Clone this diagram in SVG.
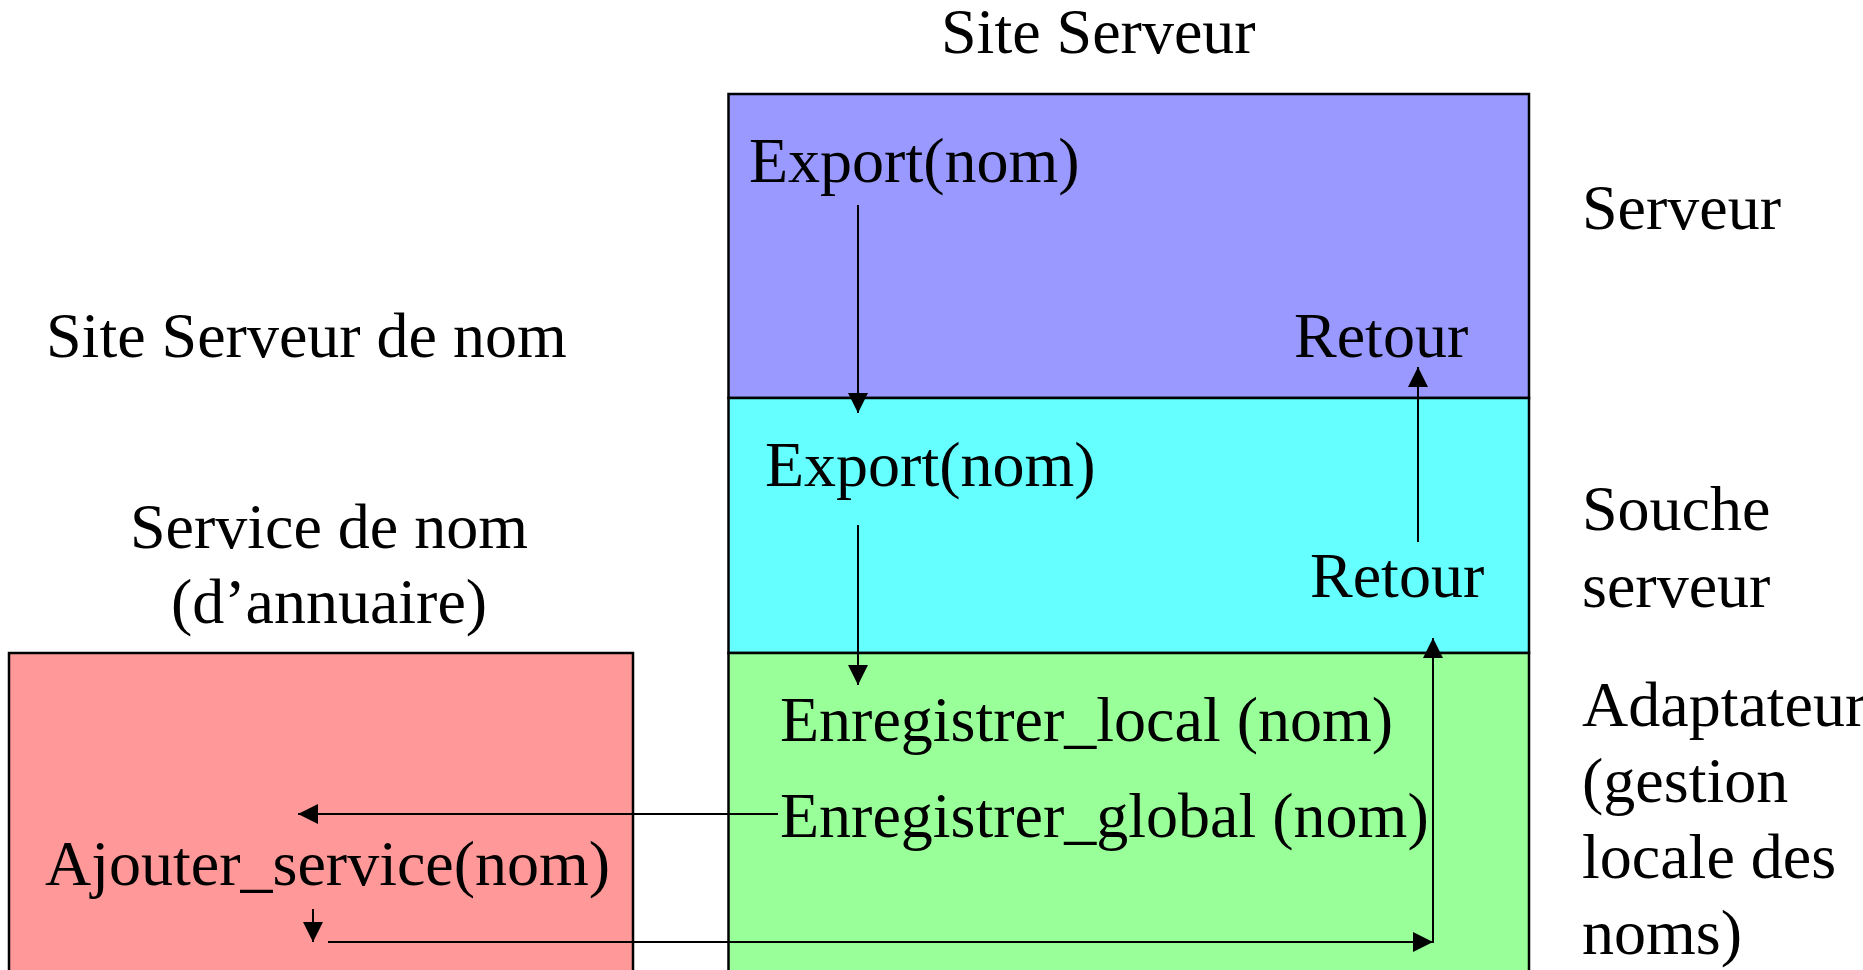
<svg xmlns="http://www.w3.org/2000/svg" width="1863" height="970" viewBox="0 0 1863 970">
  <style>
    text { font-family: "Liberation Serif", "Times New Roman", serif; font-size: 64px; fill: #000; }
    .mid { text-anchor: middle; }
    .layer { stroke: #000; stroke-width: 2.5; }
    .link { stroke: #000; stroke-width: 2; fill: none; }
  </style>
  <defs>
    <marker id="head" markerUnits="userSpaceOnUse" markerWidth="21" markerHeight="21" refX="20" refY="10" orient="auto">
      <path d="M0,0 L20,10 L0,20 z" fill="#000"/>
    </marker>
  </defs>
  <rect width="1863" height="970" fill="#fff"/>

  <!-- titles -->
  <g id="titles">
    <text x="941" y="53">Site Serveur</text>
    <text x="46" y="357">Site Serveur de nom</text>
    <text class="mid" x="329" y="548">Service de nom</text>
    <text class="mid" x="329" y="623">(d’annuaire)</text>
  </g>

  <!-- server site layers -->
  <g id="serveur">
    <rect class="layer" x="728.5" y="94" width="800.5" height="304" fill="#9999ff"/>
    <text x="749" y="182">Export(nom)</text>
    <text x="1294" y="357">Retour</text>
  </g>
  <g id="souche">
    <rect class="layer" x="728.5" y="398" width="800.5" height="255" fill="#66ffff"/>
    <text x="765" y="486">Export(nom)</text>
    <text x="1310" y="597">Retour</text>
  </g>
  <g id="adaptateur">
    <rect class="layer" x="728.5" y="653" width="800.5" height="330" fill="#99ff99"/>
    <text x="780" y="741">Enregistrer_local (nom)</text>
    <text x="780" y="837">Enregistrer_global (nom)</text>
  </g>

  <!-- name service -->
  <g id="service-nom">
    <rect class="layer" x="9" y="653" width="624" height="330" fill="#ff9999"/>
    <text x="45" y="885">Ajouter_service(nom)</text>
  </g>

  <!-- layer captions -->
  <g id="legende">
    <text x="1582" y="229">Serveur</text>
    <text x="1582" y="530">Souche</text>
    <text x="1582" y="607">serveur</text>
    <text x="1582" y="726">Adaptateur</text>
    <text x="1582" y="802">(gestion</text>
    <text x="1582" y="878">locale des</text>
    <text x="1582" y="954">noms)</text>
  </g>

  <!-- connectors -->
  <g id="connecteurs">
    <line class="link" x1="858" y1="205" x2="858" y2="413" marker-end="url(#head)"/>
    <line class="link" x1="858" y1="525" x2="858" y2="685" marker-end="url(#head)"/>
    <line class="link" x1="1418" y1="542" x2="1418" y2="367" marker-end="url(#head)"/>
    <line class="link" x1="778" y1="814" x2="298" y2="814" marker-end="url(#head)"/>
    <line class="link" x1="313" y1="909" x2="313" y2="942" marker-end="url(#head)"/>
    <line class="link" x1="328" y1="942" x2="1433" y2="942" marker-end="url(#head)"/>
    <line class="link" x1="1433" y1="943" x2="1433" y2="638" marker-end="url(#head)"/>
  </g>
</svg>
